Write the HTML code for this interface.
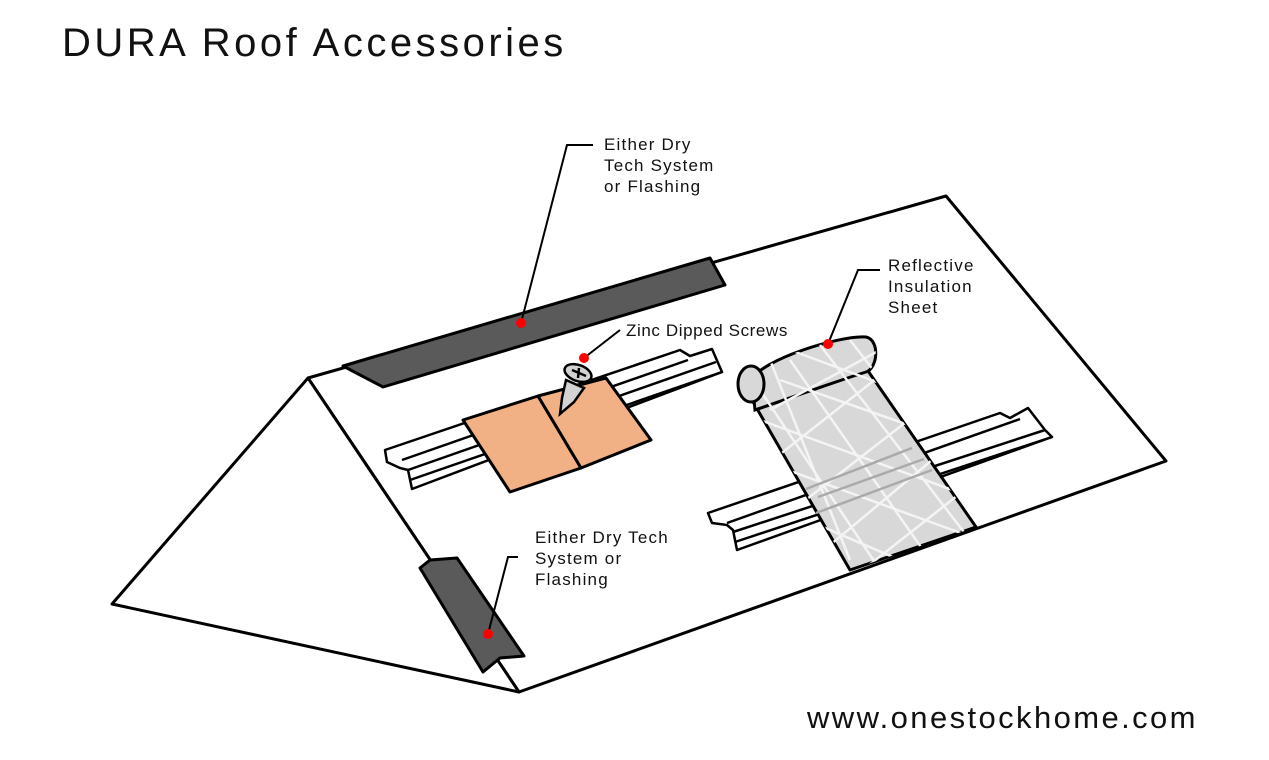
<!DOCTYPE html>
<html><head><meta charset="utf-8"><style>
html,body{margin:0;padding:0;background:#fff;}
svg{display:block;}
text{font-family:"Liberation Sans",sans-serif;fill:#111;}
</style></head><body>
<svg width="1269" height="760" viewBox="0 0 1269 760" xmlns="http://www.w3.org/2000/svg">
<defs>
<clipPath id="sh"><path d="M752,400 L866,368 L976,527 L850,570 Z M752,380 C760,360 840,335 866,337 C880,340 878,368 866,372 C840,380 770,405 755,410 Z"/></clipPath>
</defs>
<text x="62" y="56" font-size="40" letter-spacing="3.5">DURA Roof Accessories</text>
<g fill="none" stroke="#000" stroke-width="3" stroke-linejoin="round">
<polygon points="308,378 946,196 1166,461 519,692" fill="#fff"/>
<polygon points="308,378 112,604 519,692" fill="#fff"/>
</g>
<polygon points="343,366 370,358 710,258 725,285 383,387" fill="#5a5a5a" stroke="#000" stroke-width="3" stroke-linejoin="round"/>
<polygon points="420,568 430,560 457,558 524,656 500,658 483,672" fill="#5a5a5a" stroke="#000" stroke-width="3" stroke-linejoin="round"/>
<g fill="#fff" stroke="#000" stroke-width="2.5" stroke-linejoin="round">
<polygon points="385,450 680,350 690,356 712,349 722,372 412,489 408,470 400,468 387,462"/>
<polyline fill="none" points="402,460 688,360"/>
<polyline fill="none" points="408,470 716,362"/>
<polyline fill="none" points="410,480 722,372"/>
</g>
<g fill="#fff" stroke="#000" stroke-width="2.5" stroke-linejoin="round">
<polygon points="708,513 1000,413 1010,418 1028,408 1045,430 1052,437 737,550 733,530 727,525 712,523"/>
<polyline fill="none" points="727,523 1020,419"/>
<polyline fill="none" points="733,532 1045,430"/>
<polyline fill="none" points="735,542 1052,437"/>
</g>
<g fill="#f2b184" stroke="#000" stroke-width="3" stroke-linejoin="round">
<polygon points="463,420 538,396 581,468 510,492"/>
<polygon points="538,396 606,378 651,440 581,468"/>
</g>
<g stroke="#000" stroke-width="2.5" fill="#d3d3d3">
<polygon points="566,380 584,388 574,402 560,414 562,398"/>
<ellipse cx="578" cy="373" rx="14" ry="8" transform="rotate(20 578 373)"/>
<path d="M572,370 L586,376 M579,368 L578,378" fill="none"/>
</g>
<path d="M752,400 L866,368 L976,527 L850,570 Z" fill="#d8d8d8" stroke="#000" stroke-width="3" stroke-linejoin="round"/>
<path d="M752,380 C760,360 840,335 866,337 C880,340 878,368 866,372 C840,380 770,405 755,410 Z" fill="#d8d8d8" stroke="#000" stroke-width="3"/>
<g clip-path="url(#sh)" stroke="#f4f4f4" stroke-width="2.5">
<path d="M760,420 L980,500 M760,460 L980,540 M780,380 L980,450 M790,350 L980,420 M760,500 L900,560 M770,410 L880,350 M760,470 L900,360 M780,520 L960,380 M800,570 L980,420 M850,580 L990,470 M790,360 L930,560 M760,390 L880,570 M820,345 L970,540 M850,340 L990,520 M770,360 L850,560"/>
</g>
<g stroke="#aaa" stroke-width="2.5"><line x1="806" y1="489" x2="912" y2="448"/><line x1="818" y1="497" x2="924" y2="459"/><line x1="816" y1="513" x2="932" y2="470"/></g>
<ellipse cx="751" cy="384" rx="13" ry="18" fill="#d8d8d8" stroke="#000" stroke-width="3"/>
<g fill="none" stroke="#000" stroke-width="2">
<polyline points="521,323 567,145 593,145"/>
<polyline points="584,358 620,330"/>
<polyline points="828,344 858,270 880,270"/>
<polyline points="488,634 508,557 518,557"/>
</g>
<g fill="#f00"><circle cx="521" cy="323" r="5"/><circle cx="584" cy="358" r="5"/><circle cx="828" cy="344" r="5"/><circle cx="488" cy="634" r="5"/></g>
<g font-size="17" letter-spacing="1.2">
<text x="604" y="150">Either Dry</text><text x="604" y="171">Tech System</text><text x="604" y="192">or Flashing</text>
<text x="626" y="336" letter-spacing="0.6">Zinc Dipped Screws</text>
<text x="888" y="271">Reflective</text><text x="888" y="292">Insulation</text><text x="888" y="313">Sheet</text>
<text x="535" y="543">Either Dry Tech</text><text x="535" y="564">System or</text><text x="535" y="585">Flashing</text>
</g>
<text x="807" y="728" font-size="31" letter-spacing="2.4">www.onestockhome.com</text>
</svg>
</body></html>
